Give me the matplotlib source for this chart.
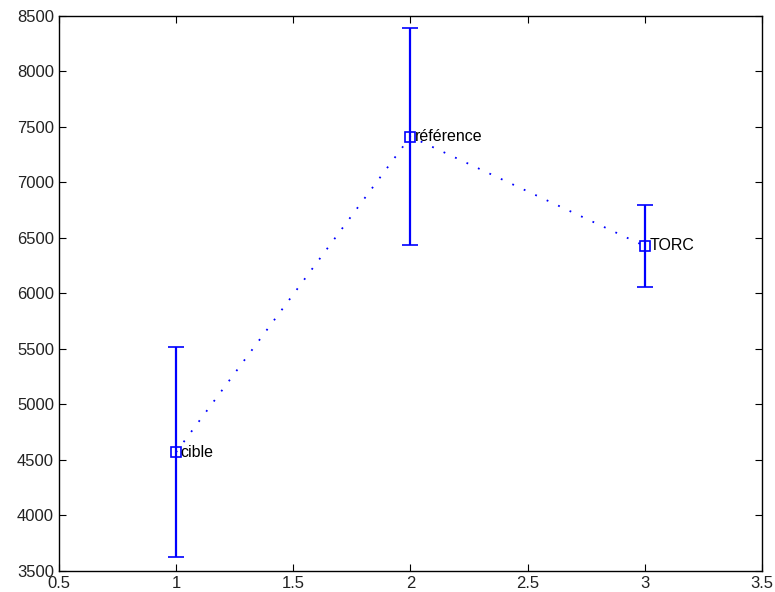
import matplotlib
matplotlib.use('Agg')
import matplotlib.pyplot as plt

# moyennes et écarts des trois conditions
x = [1, 2, 3]
moyennes = [4570, 7413, 6428]
ecarts = [946, 976, 372]
noms = ['cible', 'référence', 'TORC']

plt.rcParams['font.family'] = ['Liberation Sans', 'DejaVu Sans']

fig = plt.figure(figsize=(7.75, 5.92), dpi=100)
ax = fig.add_axes([0.076, 0.0355, 0.907, 0.9375])

ax.errorbar(x, moyennes, yerr=ecarts, fmt='s', color='#0000ff', mfc='none',
            ms=7, mew=1.2, capsize=6, elinewidth=1.6, capthick=1.6)
ax.plot(x, moyennes, color='#0000ff', lw=1.3, ls=(0, (1, 6)))
for xi, yi, nom in zip(x, moyennes, noms):
    ax.text(xi + 0.02, yi, nom, fontsize=11.5, va='center', ha='left')

ax.set_xlim(0.5, 3.5)
ax.set_ylim(3500, 8500)
ax.set_xticks([0.5, 1, 1.5, 2, 2.5, 3, 3.5])
ax.set_xticklabels(['0.5', '1', '1.5', '2', '2.5', '3', '3.5'])
ax.set_yticks(range(3500, 8501, 500))
ax.tick_params(direction='in', top=True, right=True, labelsize=12, length=5,
               labelcolor='#222222')
for s in ax.spines.values():
    s.set_linewidth(1.0)

fig.savefig('out.png', dpi=100)
